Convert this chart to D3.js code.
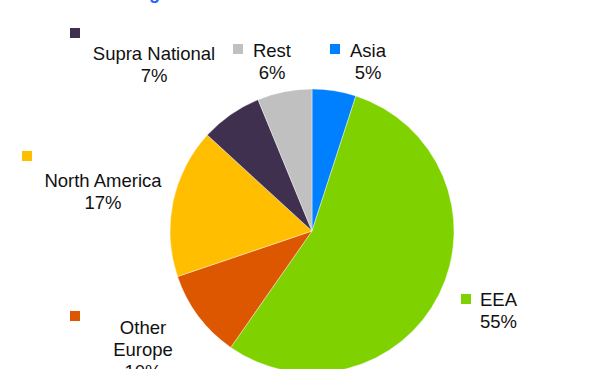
<!DOCTYPE html>
<html><head><meta charset="utf-8">
<script src="https://cdn.jsdelivr.net/npm/d3@7"></script>
<style>body{margin:0;background:#fff;}svg{display:block;}</style>
</head><body>
<svg id="c" width="608" height="369"></svg>
<script>
const categories = ["Asia", "EEA", "Other Europe", "North America", "Supra National", "Rest"];
const values = [5.0, 54.7, 10.1, 17.0, 7.0, 6.2];
const colors = ["#0080FF", "#7FD200", "#DD5700", "#FFBE00", "#403050", "#C0C0C0"];
const titleText = "Funding";

// label layout: square position, text lines, text anchor point
const labelLayout = {
  "Asia":          {sq:[330,44], lines:["Asia"], x:368, y:57, anchor:"middle"},
  "EEA":           {sq:[461,294], lines:["EEA"], x:480, y:306, anchor:"start"},
  "Other Europe":  {sq:[70,311], lines:["Other","Europe"], x:143, y:334, anchor:"middle"},
  "North America": {sq:[22,151], lines:["North America"], x:103, y:187, anchor:"middle"},
  "Supra National":{sq:[70,28], lines:["Supra National"], x:154, y:60, anchor:"middle"},
  "Rest":          {sq:[233,44], lines:["Rest"], x:272, y:57, anchor:"middle"}
};

const svg = d3.select("#c");
const cx = 312, cy = 231, r = 142;

svg.append("text").attr("x", 160).attr("y", -1).attr("text-anchor", "end")
  .attr("font-family", "Liberation Sans, Arial, sans-serif").attr("font-size", 18)
  .attr("font-weight", "bold").attr("fill", "#1F5FFF").text(titleText);

const data = categories.map((c, i) => ({name: c, value: values[i], color: colors[i]}));
const pie = d3.pie().sort(null).value(d => d.value).startAngle(0).endAngle(2 * Math.PI);
const arc = d3.arc().innerRadius(0).outerRadius(r);

const g = svg.append("g").attr("transform", `translate(${cx},${cy})`);
g.selectAll("path").data(pie(data)).join("path")
  .attr("d", arc).attr("fill", d => d.data.color)
  .attr("stroke", "#fff").attr("stroke-width", 0.4);

const lg = svg.append("g").attr("font-family", "Liberation Sans, Arial, sans-serif")
  .attr("font-size", 18.5).attr("fill", "#111");
data.forEach(d => {
  const L = labelLayout[d.name];
  lg.append("rect").attr("x", L.sq[0]).attr("y", L.sq[1]).attr("width", 10).attr("height", 10)
    .attr("fill", d.color);
  const lines = L.lines.concat([Math.round(d.value) + "%"]);
  const t = lg.append("text").attr("text-anchor", L.anchor);
  lines.forEach((s, i) => {
    t.append("tspan").attr("x", L.x).attr("y", L.y + i * 22).text(s);
  });
});
</script>
</body></html>
